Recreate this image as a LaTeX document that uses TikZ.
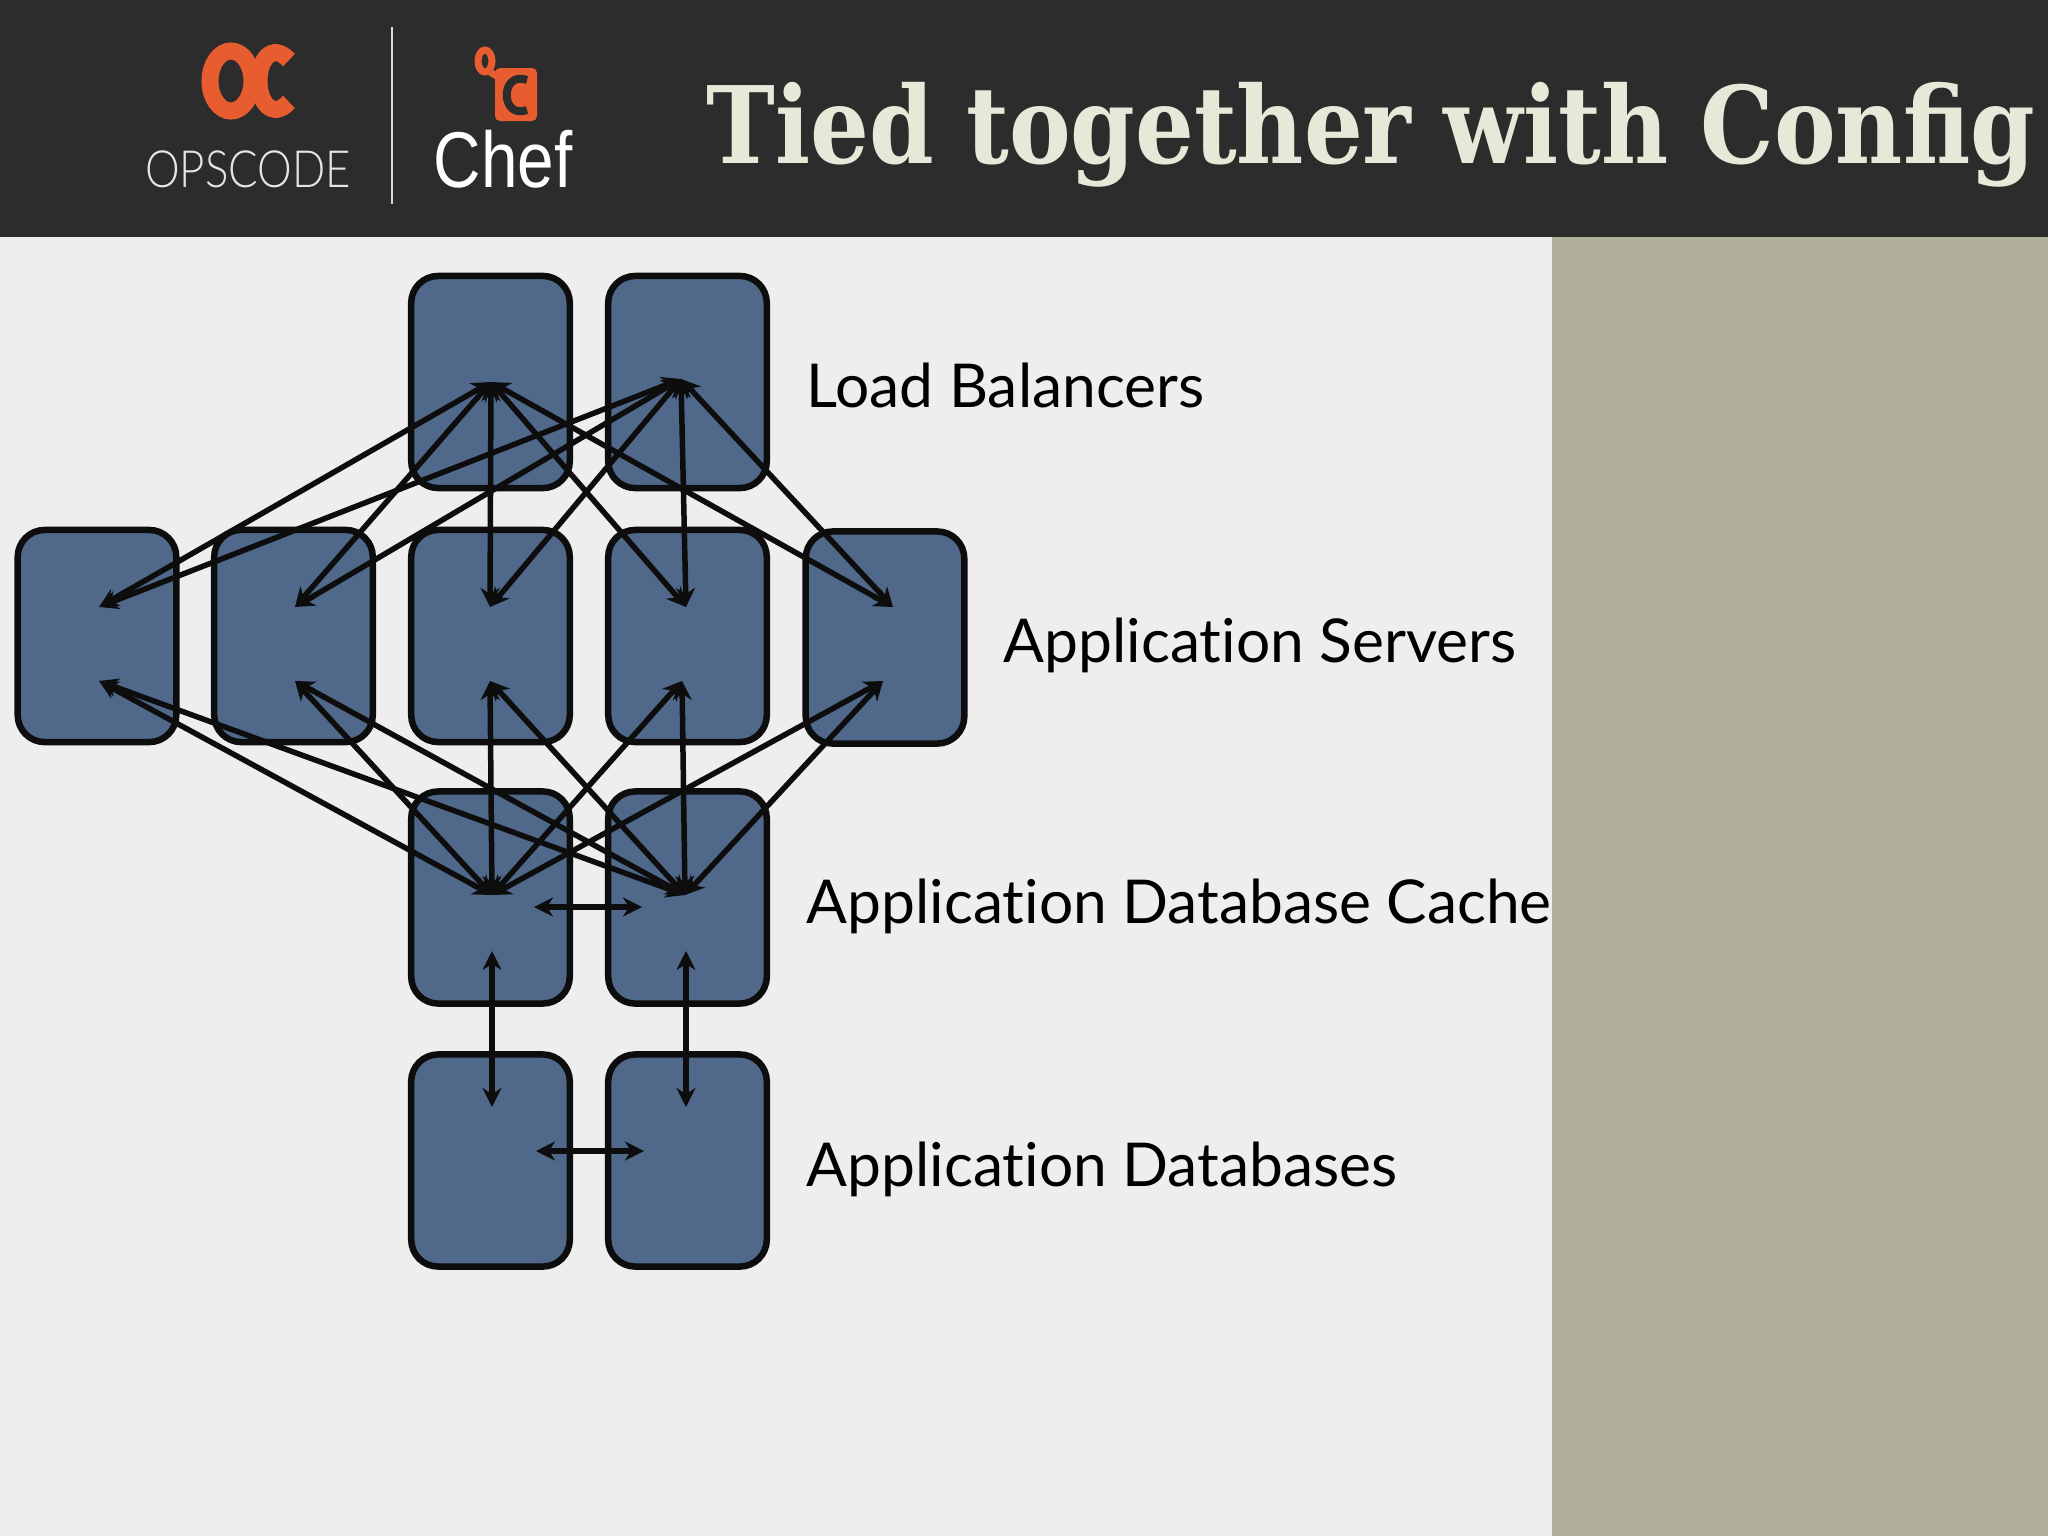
\documentclass[tikz,border=0pt]{standalone}
\usepackage{fontspec}
\setmainfont[Ligatures=NoCommon]{Lato}
\newfontfamily\titlefont{DejaVu Serif}
\newfontfamily\logofont{Liberation Sans}
\newfontfamily\logothin{Lato Light}
\usepackage{tikz}
\usetikzlibrary{arrows.meta}
\definecolor{headerdark}{HTML}{2C2C2C}
\definecolor{slidebg}{HTML}{EFEEEF}
\definecolor{panelgreen}{HTML}{B0B09C}
\definecolor{boxblue}{HTML}{50698B}
\definecolor{logoorange}{HTML}{E85D2F}
\definecolor{titlecream}{HTML}{E8E8D8}
\begin{document}
\begin{tikzpicture}[
            x=0.01cm,y=-0.01cm,
            serverbox/.style={
            draw=black!95,
            fill=boxblue,
            line width=0.065cm,
            rounded corners=0.27cm,
            minimum width=1.585cm,
            minimum height=2.12cm,
            inner sep=0pt
            },
            link/.style={{Stealth[length=0.19cm,width=0.19cm,inset=0.06cm]}-{Stealth[length=0.19cm,width=0.19cm,inset=0.06cm]},line width=0.055cm,black!95},
            tierlabel/.style={anchor=base west,inner sep=0pt,font=\fontsize{17.2}{20}\selectfont},
            logoline/.style={line width=0.17cm,logoorange}
            ]
            \useasboundingbox (0,0) rectangle (2048,1536);
            \clip (0,0) rectangle (2048,1536);
            % slide background
            \fill[slidebg] (0,237) rectangle (1552,1536);
            \fill[panelgreen] (1552,237) rectangle (2048,1536);
            \fill[headerdark] (0,0) rectangle (2048,237);
            % logos
            \draw[logoline] (231,81) ellipse [x radius=0.21cm,y radius=0.30cm];
            \draw[logoline] (289,60) .. controls (272,42) and (259,60) .. (259,81) .. controls (259,102) and (272,120) .. (289,102);
            \draw[white!85!black,line width=0.02cm] (392,27) -- (392,204);
            \draw[line width=0.07cm,logoorange] (485,61) ellipse [x radius=0.07cm,y radius=0.11cm];
            \draw[line width=0.07cm,logoorange] (490,72) -- (500,78);
            \fill[logoorange,rounded corners=0.05cm] (495,68) rectangle (537,121);
            \draw[line width=0.08cm,headerdark] (527,80) .. controls (500,70) and (500,120) .. (527,110);
            \node[anchor=base,inner sep=0pt,text=white!90!black] (opscode) at (248,187)
                {\logothin\fontsize{14.6}{16}\selectfont\scalebox{0.853}[1]{OPSCODE}};
            \node[anchor=base,inner sep=0pt,text=white] (chef) at (503,187)
                {\logofont\fontsize{22.5}{24}\selectfont\scalebox{0.83}[1]{Chef}};
            % title, runs off the slide
            \node[anchor=base west,inner sep=0pt,text=titlecream] (title) at (706,163)
                {\titlefont\bfseries\fontsize{30.4}{32}\selectfont\scalebox{0.865}[1]{Tied together with Config}};
            % boxes
            \foreach \Name/\X/\Y in {lb1/490.5/382,lb2/687.5/382,
                app1/97/636,app2/293.5/636,app3/490.5/636,app4/687.5/636,app5/885/637.5,
                cache1/490.5/897.5,cache2/687.5/897.5,db1/490.5/1160.5,db2/687.5/1160.5}
            \node[serverbox] (\Name) at (\X,\Y) {};
            % where the arrows end
            \coordinate (lb1port) at (491,382);
            \coordinate (lb2port) at (681,379);
            \foreach \Name/\UpX/\DownX in {app1/99/99,app2/295/295,app3/490/490,app4/686/682,app5/893/883} {
            \coordinate (\Name up) at (\UpX,607);
            \coordinate (\Name down) at (\DownX,681);
            }
            \coordinate (cache1port) at (492,895);
            \coordinate (cache2port) at (685,895);
            \coordinate (cache1low) at (492,951);
            \coordinate (cache2low) at (686,951);
            \coordinate (db1top) at (492,1107);
            \coordinate (db2top) at (686,1107);
            \coordinate (cache1mid) at (534,907);
            \coordinate (cache2mid) at (642,907);
            \coordinate (db1mid) at (536,1151);
            \coordinate (db2mid) at (644,1151);
            % links
            \foreach \App in {app1,app2,app3,app4,app5} {
            \draw[link] (lb1port) -- (\App up);
            \draw[link] (lb2port) -- (\App up);
            \draw[link] (cache1port) -- (\App down);
            \draw[link] (cache2port) -- (\App down);
            }
            \draw[link] (cache1mid) -- (cache2mid);
            \draw[link] (db1mid) -- (db2mid);
            \draw[link] (cache1low) -- (db1top);
            \draw[link] (cache2low) -- (db2top);
            % labels
            \node[tierlabel] (lblb) at (806,407) {Load Balancers};
            \node[tierlabel] (lbapp) at (1003,662) {Application Servers};
            \node[tierlabel] (lbcache) at (806,923) {Application Database Cache};
            \node[tierlabel] (lbdb) at (806,1186) {Application Databases};
\end{tikzpicture}
\end{document}
